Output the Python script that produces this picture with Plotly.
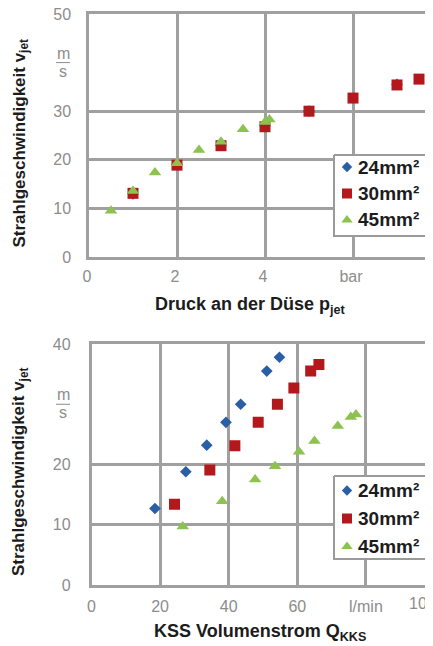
import plotly.graph_objects as go

# browser window and the default 8px page margin around the plot div
WIN_W, WIN_H = 433, 646
OFF = 8
W, H = WIN_W - OFF, WIN_H - OFF

# ---------- data: top chart (pressure) ----------
p_24 = [1, 2, 3, 4, 5, 7, 8]
v_24_p = [13.0, 19.0, 23.0, 27.0, 30.0, 35.5, 38.0]
p_30 = [1, 2, 3, 4, 5, 6, 7, 7.5]
v_30_p = [13.1, 18.9, 22.9, 26.8, 30.0, 32.7, 35.4, 36.6]
p_45 = [0.5, 1, 1.5, 2, 2.5, 3, 3.5, 4, 4.1]
v_45_p = [9.5, 13.6, 17.4, 19.3, 22.0, 23.7, 26.3, 27.8, 28.3]

top_xtickvals = [0, 2, 4, 6]
top_xticktext = ["0", "2", "4", "bar"]
top_ytickvals = [0, 10, 20, 30, 50]
top_yticktext = ["0", "10", "20", "30", "50"]

# ---------- data: bottom chart (flow) ----------
q_24 = [18.5, 27.5, 33.6, 39.2, 43.5, 51.1, 54.8]
v_24_q = [12.7, 18.8, 23.2, 27.0, 30.0, 35.5, 37.8]
q_30 = [24.2, 34.5, 41.8, 48.6, 54.2, 59.0, 63.9, 66.3]
v_30_q = [13.4, 19.1, 23.1, 27.0, 30.0, 32.7, 35.5, 36.6]
q_45 = [26.6, 38.1, 47.7, 53.5, 60.5, 65.0, 71.8, 75.6, 77.1]
v_45_q = [9.7, 13.9, 17.5, 19.7, 22.1, 23.9, 26.4, 27.9, 28.3]

bot_xtickvals = [0, 20, 40, 60, 80]
bot_xticktext = ["0", "20", "40", "60", "l/min"]
bot_ytickvals = [0, 10, 20, 40]
bot_yticktext = ["0", "10", "20", "40"]

series_names = ["24mm²", "30mm²", "45mm²"]
colors = ["#2a5ea5", "#b3191c", "#8cc250"]
symbols = ["diamond", "square", "triangle-up"]
sizes = [9, 11, 11]
leg_sizes = [8, 10, 10]

GRID = "#a0a0a0"
TICKC = "#8c8c8c"
TXT = "#1c1c1c"
FONT = "Liberation Sans, Arial, sans-serif"

fig = go.Figure()

top_sets = [(p_24, v_24_p), (p_30, v_30_p), (p_45, v_45_p)]
bot_sets = [(q_24, v_24_q), (q_30, v_30_q), (q_45, v_45_q)]

for i, (xs, ys) in enumerate(top_sets):
    fig.add_trace(go.Scatter(x=xs, y=ys, mode="markers", name=series_names[i], showlegend=False,
                             marker=dict(color=colors[i], symbol=symbols[i], size=sizes[i]),
                             xaxis="x", yaxis="y", cliponaxis=True))
for i, (xs, ys) in enumerate(bot_sets):
    fig.add_trace(go.Scatter(x=xs, y=ys, mode="markers", name=series_names[i], showlegend=False,
                             marker=dict(color=colors[i], symbol=symbols[i], size=sizes[i]),
                             xaxis="x2", yaxis="y2", cliponaxis=True))

# window-pixel position -> paper fraction
def px_x(p):
    return (p - OFF) / W

def px_y(p):
    return (H - (p - OFF)) / H

# ---------- hand-drawn legends on a full-page pixel overlay ----------
legend_boxes = [(334, 428, 155, 236, [167, 193.5, 220]),
                (334, 428, 476, 559, [490.5, 518.5, 546.5])]
ann = []
leg_font = dict(family=FONT, size=19, color=TXT, weight="bold")
for (x0, x1, y0, y1, rows) in legend_boxes:
    fig.add_trace(go.Scatter(x=[x0, x1, x1, x0, x0], y=[y0, y0, y1, y1, y0],
                             mode="lines", fill="toself", fillcolor="white",
                             line=dict(color="#9a9a9a", width=2), showlegend=False,
                             hoverinfo="skip", xaxis="x3", yaxis="y3", cliponaxis=False))
    for i, ry in enumerate(rows):
        fig.add_trace(go.Scatter(x=[347], y=[ry], mode="markers", showlegend=False,
                                 marker=dict(color=colors[i], symbol=symbols[i], size=leg_sizes[i]),
                                 hoverinfo="skip", xaxis="x3", yaxis="y3", cliponaxis=False))
        ann.append(dict(text=series_names[i], xref="paper", yref="paper",
                        x=px_x(356), y=px_y(ry), xanchor="left", yanchor="middle",
                        showarrow=False, font=leg_font))

axis_common = dict(showgrid=True, gridcolor=GRID, gridwidth=2.5, zeroline=False,
                   showline=True, linecolor=GRID, linewidth=2.5, automargin=False,
                   ticks="outside", tickcolor="rgba(0,0,0,0)", ticklabeloverflow="allow",
                   tickfont=dict(family=FONT, size=16, color=TICKC), fixedrange=True)

top_x0, top_unit = 89, 44.0
bot_x0, bot_unit = 91.5, 3.43

fig.update_layout(
    width=W, height=H, margin=dict(l=0, r=0, t=0, b=0),
    paper_bgcolor="white", plot_bgcolor="rgba(0,0,0,0)",
    showlegend=False,
    xaxis=dict(domain=[px_x(top_x0), 1], range=[0, (WIN_W - top_x0) / top_unit],
               tickvals=top_xtickvals, ticktext=top_xticktext, anchor="y",
               mirror=True, ticklen=3, ticklabelshift=-2, **axis_common),
    yaxis=dict(domain=[px_y(257), px_y(14)], range=[0, 50],
               tickvals=top_ytickvals, ticktext=top_yticktext, anchor="x",
               ticklen=12, **axis_common),
    xaxis2=dict(domain=[px_x(bot_x0), 1], range=[0, (WIN_W - bot_x0) / bot_unit],
                tickvals=bot_xtickvals, ticktext=bot_xticktext, anchor="y2",
                mirror=True, ticklen=5, **axis_common),
    yaxis2=dict(domain=[px_y(585), px_y(344)], range=[0, 40],
                tickvals=bot_ytickvals, ticktext=bot_yticktext, anchor="x2",
                ticklen=15, **axis_common),
    xaxis3=dict(domain=[0, 1], range=[OFF, WIN_W], visible=False, anchor="y3", fixedrange=True),
    yaxis3=dict(domain=[0, 1], range=[WIN_H, OFF], visible=False, anchor="x3", fixedrange=True),
)

title_font = dict(family=FONT, size=17, color=TXT, weight="bold")
xtitle_font = dict(family=FONT, size=18, color=TXT, weight="bold")
frac_font = dict(family=FONT, size=16, color=TICKC)
# axis titles
ann.append(dict(text="Strahlgeschwindigkeit v<sub>jet</sub>", textangle=-90,
                xref="paper", yref="paper", x=px_x(20), y=px_y(143.5),
                xanchor="center", yanchor="middle", showarrow=False, font=title_font))
ann.append(dict(text="Strahlgeschwindigkeit v<sub>jet</sub>", textangle=-90,
                xref="paper", yref="paper", x=px_x(20), y=px_y(472),
                xanchor="center", yanchor="middle", showarrow=False, font=title_font))
ann.append(dict(text="Druck an der Düse p<sub>jet</sub>",
                xref="paper", yref="paper", x=px_x(250), y=px_y(305),
                xanchor="center", yanchor="middle", showarrow=False, font=xtitle_font))
ann.append(dict(text="KSS Volumenstrom Q<sub>KKS</sub>",
                xref="paper", yref="paper", x=px_x(260), y=px_y(632),
                xanchor="center", yanchor="middle", showarrow=False, font=xtitle_font))
# unit fractions on the y axes
shapes = []
for yref, yv in (("y", 40), ("y2", 30)):
    ann.append(dict(text="m", xref="paper", yref=yref, x=px_x(63), y=yv, yshift=-1,
                    xanchor="center", yanchor="bottom", showarrow=False, font=frac_font))
    ann.append(dict(text="s", xref="paper", yref=yref, x=px_x(63), y=yv, yshift=2,
                    xanchor="center", yanchor="top", showarrow=False, font=frac_font))
    shapes.append(dict(type="line", xref="paper", yref=yref, x0=px_x(56), x1=px_x(70),
                       y0=yv, y1=yv, line=dict(color=TICKC, width=1)))
# edge tick labels cut by the page
ann.append(dict(text="8", xref="paper", yref="paper", x=px_x(430), y=px_y(275),
                xanchor="left", yanchor="middle", showarrow=False,
                font=dict(family=FONT, size=16, color=TICKC)))
ann.append(dict(text="100", xref="paper", yref="paper", x=px_x(407), y=px_y(603),
                xanchor="left", yanchor="middle", showarrow=False,
                font=dict(family=FONT, size=16, color=TICKC)))
fig.update_layout(annotations=ann, shapes=shapes)

fig.write_html("out.html")
